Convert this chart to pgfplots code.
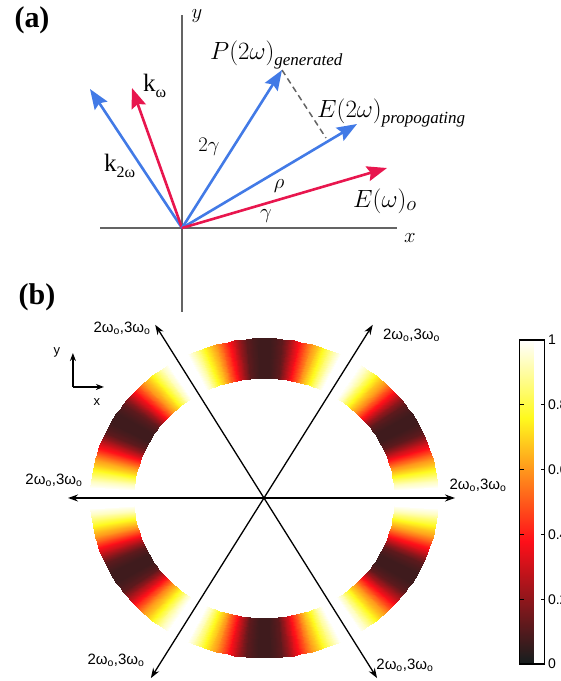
\documentclass[border=0pt]{standalone}
\usepackage{pgfplots}
\pgfplotsset{compat=1.18}
\usepackage{pgfplotstable}
\usepackage{amsmath}
\usepackage{fontspec}
\setmainfont{Liberation Serif}
\newfontfamily\tms{Liberation Serif}
\newfontfamily\arial{Liberation Sans}
\usetikzlibrary{arrows.meta,calc}
\definecolor{vblue}{RGB}{66,122,230}
\definecolor{vred}{RGB}{232,22,78}
\definecolor{agray}{RGB}{100,100,100}
\newcommand{\wlab}{{\arial\fontsize{15}{15}\selectfont 2ω\textsubscript{o},3ω\textsubscript{o}}}
\pgfplotstableread{
phi r v
-26 0.75 0.99
-24 0.75 0.93
-22 0.75 0.85
-20 0.75 0.76
-18 0.75 0.68
-16 0.75 0.60
-14 0.75 0.50
-12 0.75 0.40
-10 0.75 0.30
-8 0.75 0.20
-6 0.75 0.12
-4 0.75 0.09
-2 0.75 0.07
0 0.75 0.07
2 0.75 0.07
4 0.75 0.09
6 0.75 0.12
8 0.75 0.20
10 0.75 0.30
12 0.75 0.40
14 0.75 0.50
16 0.75 0.60
18 0.75 0.68
20 0.75 0.76
22 0.75 0.85
24 0.75 0.93
26 0.75 0.99
-26 1.0 0.99
-24 1.0 0.93
-22 1.0 0.85
-20 1.0 0.76
-18 1.0 0.68
-16 1.0 0.60
-14 1.0 0.50
-12 1.0 0.40
-10 1.0 0.30
-8 1.0 0.20
-6 1.0 0.12
-4 1.0 0.09
-2 1.0 0.07
0 1.0 0.07
2 1.0 0.07
4 1.0 0.09
6 1.0 0.12
8 1.0 0.20
10 1.0 0.30
12 1.0 0.40
14 1.0 0.50
16 1.0 0.60
18 1.0 0.68
20 1.0 0.76
22 1.0 0.85
24 1.0 0.93
26 1.0 0.99
}\ringdata
\begin{document}
\begin{tikzpicture}
% ---------------- (a) ----------------
\begin{axis}[at={(0pt,0pt)}, anchor=north west, scale only axis,
  width=561pt, height=320pt, xmin=0, xmax=561, ymin=0, ymax=320,
  y dir=reverse, axis lines=none, clip=false]
\addplot[agray, line width=2pt] coordinates {(100,228) (397,228)};
\addplot[agray, line width=2pt] coordinates {(182,15) (182,312)};
\addplot[agray, line width=1.5pt, dash pattern=on 6pt off 4pt] coordinates {(282,70) (326,138)};
\addplot[vblue, line width=2.6pt, -{Stealth[length=20pt,width=15pt,inset=3pt]}] coordinates {(182,228) (90,89)};
\addplot[vred, line width=2.6pt, -{Stealth[length=20pt,width=15pt,inset=3pt]}] coordinates {(182,228) (132,88)};
\addplot[vblue, line width=2.6pt, -{Stealth[length=20pt,width=15pt,inset=3pt]}] coordinates {(182,228) (282,70)};
\addplot[vblue, line width=2.6pt, -{Stealth[length=20pt,width=15pt,inset=3pt]}] coordinates {(182,228) (357,124)};
\addplot[vred, line width=2.6pt, -{Stealth[length=20pt,width=15pt,inset=3pt]}] coordinates {(182,228) (387,168)};
\node[font=\tms\bfseries\fontsize{30}{30}\selectfont] at (axis cs:32,20) {(a)};
\node[font=\tms\bfseries\fontsize{30}{30}\selectfont] at (axis cs:37,297) {(b)};
\node[font=\fontsize{20}{20}\selectfont] at (axis cs:197,16) {$y$};
\node[font=\fontsize{20}{20}\selectfont] at (axis cs:410,238) {$x$};
\node[anchor=base west, inner sep=0pt, font=\fontsize{24.88}{25}\selectfont] at (axis cs:210,59) {$P(2\omega)$\raisebox{-6pt}{\tms\itshape\fontsize{17}{17}\selectfont generated}};
\node[anchor=base west, inner sep=0pt, font=\fontsize{24.88}{25}\selectfont] at (axis cs:317,117) {$E(2\omega)$\raisebox{-6pt}{\tms\itshape\fontsize{17}{17}\selectfont propogating}};
\node[anchor=base west, inner sep=0pt, font=\fontsize{24.88}{25}\selectfont] at (axis cs:353,207) {$E(\omega)_{o}$};
\node[anchor=base west, inner sep=0pt, font=\tms\fontsize{25}{25}\selectfont] at (axis cs:143,91) {k\raisebox{-6pt}{\fontsize{16}{16}\selectfont ω}};
\node[anchor=base west, inner sep=0pt, font=\tms\fontsize{25}{25}\selectfont] at (axis cs:104,171) {k\raisebox{-6pt}{\fontsize{16}{16}\selectfont 2ω}};
\node[font=\fontsize{20}{20}\selectfont] at (axis cs:209,147) {$2\gamma$};
\node[font=\fontsize{21}{21}\selectfont] at (axis cs:279,186) {$\rho$};
\node[font=\fontsize{21}{21}\selectfont] at (axis cs:266,216) {$\gamma$};
\end{axis}
% ---------------- (b) ----------------
\begin{axis}[at={(0pt,-320pt)}, anchor=north west, scale only axis,
  width=561pt, height=361pt,
  xmin=-1.517, xmax=1.707, ymin=-1.144, ymax=1.1125,
  axis lines=none, clip=false,
  colormap={myhot}{rgb255(0pt)=(20,30,30); rgb255(38pt)=(255,15,25); rgb255(76pt)=(255,250,30); rgb255(100pt)=(255,255,255)},
  point meta min=0, point meta max=1,
  colorbar,
  colorbar style={
    at={($(parent axis.north west)+(511pt,-20pt)$)}, anchor=north west,
    scale only axis, width=25pt, height=324pt,
    ytick={0,0.2,0.4,0.6,0.8,1},
    yticklabel style={font=\arial\fontsize{14}{14}\selectfont},
    /pgf/number format/assume math mode=true,
    tick align=inside, major tick length=4pt,
    ytick pos=both, yticklabel pos=right,
    axis line style={line width=1.4pt, black},
    tick style={line width=0.8pt, black},
  }]
\pgfplotsinvokeforeach{30,90,150,210,270,330}{
  \addplot[surf, shader=interp, data cs=polar, mesh/rows=2, mesh/cols=27, point meta=explicit]
    table[x expr=\thisrow{phi}+#1, y=r, meta=v] {\ringdata};
}
\addplot[black, line width=1.3pt, {Stealth[length=10pt,width=7pt]}-{Stealth[length=10pt,width=7pt]}, data cs=polar] coordinates {(180,1.126) (0,1.098)};
\addplot[black, line width=1.3pt, {Stealth[length=10pt,width=7pt]}-{Stealth[length=10pt,width=7pt]}, data cs=polar] coordinates {(120,1.25) (300,1.3)};
\addplot[black, line width=1.3pt, {Stealth[length=10pt,width=7pt]}-{Stealth[length=10pt,width=7pt]}, data cs=polar] coordinates {(60,1.25) (240,1.3)};
% small x-y icon
\addplot[black, line width=1.2pt, -{Stealth[length=8pt,width=6pt]}] coordinates {(-1.098,0.694) (-1.098,0.906)};
\addplot[black, line width=1.2pt, -{Stealth[length=8pt,width=6pt]}] coordinates {(-1.098,0.694) (-0.92,0.694)};
\node[font=\arial\fontsize{13}{13}\selectfont] at (axis cs:-1.19,0.9125) {y};
\node[font=\arial\fontsize{13}{13}\selectfont] at (axis cs:-0.96,0.60) {x};
\node[inner sep=0pt] at (axis cs:-0.816,1.0625) {\wlab};
\node[inner sep=0pt] at (axis cs:0.848,1.019) {\wlab};
\node[inner sep=0pt] at (axis cs:-1.207,0.1125) {\wlab};
\node[inner sep=0pt] at (axis cs:1.23,0.081) {\wlab};
\node[inner sep=0pt] at (axis cs:-0.85,-1.0125) {\wlab};
\node[inner sep=0pt] at (axis cs:0.81,-1.044) {\wlab};
\end{axis}
\pgfresetboundingbox
\useasboundingbox (0pt,0pt) rectangle (561pt,-681pt);
\end{tikzpicture}
\end{document}
